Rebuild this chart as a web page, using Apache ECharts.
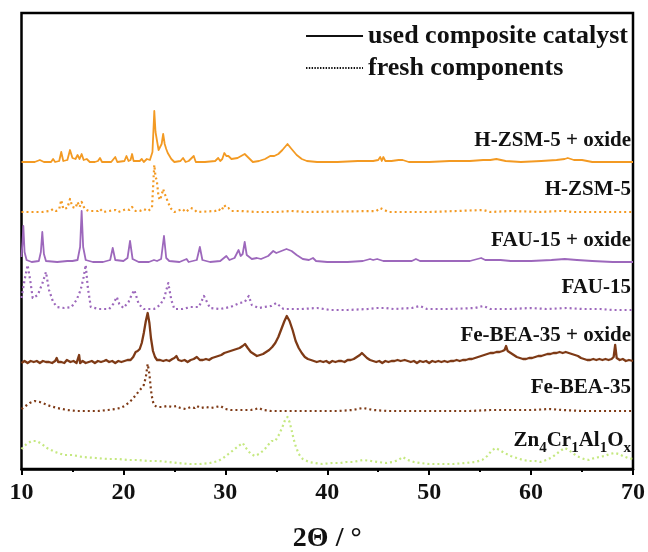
<!DOCTYPE html>
<html>
<head>
<meta charset="utf-8">
<script src="https://cdn.jsdelivr.net/npm/echarts@6/dist/echarts.min.js"></script>
<style>
  html, body { margin: 0; padding: 0; background: #ffffff; }
  #chart { width: 648px; height: 552px; }
</style>
</head>
<body>
<div id="chart"></div>
<script>
// XRD patterns: [2θ (°), intensity above the pattern's own baseline (a.u.)]
const zsmOxide = [[10,0],[11.3,0],[11.8,2],[12.2,0],[12.9,0],[13.1,3],[13.3,0],[13.7,1],[13.9,10],[14.1,1],[14.5,2],[14.76,12],[15.0,4],[15.3,3],[15.5,7],[15.7,3],[15.9,8],[16.1,2],[16.4,3],[16.7,0],[17.2,0],[17.5,1],[17.7,4],[17.9,0],[18.8,0],[19.2,5],[19.4,0],[20.1,1],[20.3,6],[20.5,1],[20.7,2],[20.85,8],[21.0,1],[21.6,1],[21.8,3],[22.0,0],[22.3,3],[22.6,2],[22.85,10],[23.03,51],[23.15,30],[23.27,28],[23.45,12],[23.6,10],[23.75,18],[23.9,28],[24.05,18],[24.2,13],[24.35,9],[24.5,9],[24.7,3],[25.0,0],[25.6,1],[25.85,4],[26.1,0],[26.4,1],[26.6,3],[26.75,1],[26.9,6],[27.1,0],[28.0,0],[29.0,1],[29.3,4],[29.5,1],[29.7,3],[29.9,9],[30.1,6],[30.3,6],[30.6,3],[31.2,4],[31.9,8],[32.4,3],[32.7,0],[33.3,1],[33.9,3],[34.4,6],[34.8,6],[35.2,8],[35.6,12],[36.1,18],[36.5,13],[37.0,7],[37.5,3],[38.0,1],[39,0],[41,0],[43,1],[44.5,1],[45.0,2],[45.2,5],[45.35,1],[45.5,5],[45.7,1],[46.3,1],[47.0,2],[47.4,2],[48.0,0],[50,0],[52,1],[54,1],[55.3,2],[56.0,2],[56.6,3],[57.5,1],[59,0],[61,1],[62.5,2],[63.3,3],[63.6,4],[64.2,2],[65,2],[66,0],[68,0],[70,0]];

const zsmFresh = [[10,0],[12,0],[12.8,1],[13.1,3],[13.4,1],[13.7,3],[13.9,12],[14.1,3],[14.5,4],[14.76,13],[15.0,5],[15.3,4],[15.5,10],[15.7,5],[15.9,10],[16.2,3],[16.6,1],[17.5,1],[17.7,3],[18,0],[19.2,2],[19.5,0],[20.3,3],[20.6,2],[20.85,5],[21.2,1],[21.6,1],[22.0,3],[22.4,1],[22.8,4],[23.03,47],[23.15,35],[23.27,32],[23.45,15],[23.6,12],[23.75,17],[23.9,23],[24.05,18],[24.2,15],[24.35,10],[24.5,8],[24.7,3],[25,0],[25.8,3],[26.1,0],[26.6,4],[26.9,3],[27.2,0],[29.0,1],[29.3,3],[29.6,1],[29.9,7],[30.1,4],[30.3,4],[30.6,1],[31.5,1],[33,0],[35,0],[36.5,1],[38,0],[44.8,1],[45.2,4],[45.4,3],[45.6,2],[46,0],[50,0],[55.3,2],[56,0],[58,1],[61,0],[62.7,1],[63.3,1],[64,0],[70,0]];

const fauOxide = [[10.0,5],[10.1,20],[10.18,36],[10.3,10],[10.5,2],[11.0,0],[11.7,1],[11.9,10],[12.04,30],[12.2,8],[12.4,1],[13.5,0],[14.5,1],[15.0,1],[15.5,2],[15.75,15],[15.9,51],[16.05,15],[16.3,2],[17,0],[18,0],[18.7,2],[18.95,14],[19.2,2],[20,1],[20.4,4],[20.65,21],[20.9,3],[21.5,0],[22.5,0],[23.0,2],[23.13,4],[23.3,1],[23.7,3],[23.98,26],[24.2,4],[24.5,1],[25.5,0],[26.2,3],[26.4,0],[27.2,2],[27.5,15],[27.75,2],[28.5,0],[29.5,1],[30.1,6],[30.4,2],[30.9,4],[31.3,12],[31.5,6],[31.7,8],[31.9,20],[32.1,7],[32.6,3],[33.1,4],[33.5,3],[34.2,6],[34.7,11],[35.0,9],[35.5,11],[36.0,13],[36.5,11],[37.0,7],[37.6,3],[38.2,2],[38.6,4],[38.9,1],[40,0],[42,0],[43.5,1],[44.2,3],[44.5,2],[44.9,3],[45.5,1],[47,1],[48.3,1],[48.7,3],[49.1,1],[51,1],[52.5,1],[54,1],[55.1,4],[55.5,2],[56.2,2],[57,2],[58,1],[60,1],[62,2],[63.3,3],[64.5,2],[66,1],[68,0],[70,0]];

const fauFresh = [[10.0,12],[10.3,30],[10.6,45],[10.85,30],[11.1,12],[11.6,15],[12.1,28],[12.4,38],[12.7,20],[13.1,8],[13.5,3],[14.2,2],[14.9,3],[15.4,10],[15.8,20],[16.1,33],[16.3,45],[16.5,23],[16.8,3],[17.6,1],[18.6,1],[19.0,6],[19.35,13],[19.6,6],[20.0,2],[20.5,8],[20.8,15],[21.07,20],[21.5,6],[22.0,1],[23.0,1],[23.6,5],[24.0,12],[24.4,27],[24.7,10],[25.0,1],[25.8,1],[26.6,3],[27.4,3],[27.9,14],[28.5,2],[29.5,1],[30.5,3],[31.4,7],[31.9,8],[32.3,14],[32.6,5],[33.3,2],[33.8,3],[34.5,4],[35.0,7],[35.7,1],[37.5,1],[39.0,2],[40.3,0],[42,0],[44.0,1],[44.9,2],[45.7,2],[46.5,1],[48.3,2],[49.1,4],[49.8,1],[52,1],[54.5,2],[55.3,4],[56,1],[58,1],[60,2],[61.5,1],[63.5,2],[65,1],[66.8,1],[68,0],[70,0]];

const beaOxide = [[10.0,0],[10.3,2],[10.6,0],[10.9,2],[11.2,1],[11.5,2],[11.8,0],[12.1,2],[12.4,1],[12.7,1],[13.0,0],[13.3,2],[13.45,5],[13.6,1],[13.9,1],[14.2,0],[14.45,3],[14.6,4],[14.8,1],[15.1,2],[15.4,0],[15.65,8],[15.75,0],[16.0,2],[16.3,0],[16.6,1],[16.9,2],[17.2,0],[17.5,2],[17.8,1],[18.1,2],[18.3,3],[18.6,1],[18.9,2],[19.2,0],[19.5,2],[19.8,1],[20.1,2],[20.4,3],[20.7,3],[20.96,6],[21.2,11],[21.4,12],[21.6,14],[21.8,20],[22.0,30],[22.2,42],[22.38,50],[22.55,40],[22.7,25],[22.9,12],[23.1,6],[23.3,3],[23.6,3],[23.9,2],[24.2,3],[24.5,2],[24.8,4],[25.0,5],[25.2,7],[25.4,3],[25.7,2],[26.0,3],[26.3,1],[26.6,3],[26.9,4],[27.2,6],[27.5,3],[27.8,3],[28.1,4],[28.4,3],[28.7,5],[29.0,6],[29.3,7],[29.6,8],[29.9,10],[30.2,11],[30.5,12],[30.8,13],[31.1,14],[31.4,15],[31.7,17],[31.93,19],[32.2,15],[32.5,11],[32.8,9],[33.1,7],[33.4,8],[33.7,9],[34.0,11],[34.3,13],[34.6,16],[34.9,20],[35.2,26],[35.5,34],[35.8,42],[36.03,47],[36.3,42],[36.6,33],[36.9,22],[37.2,15],[37.5,10],[37.8,6],[38.1,4],[38.4,3],[38.97,1],[39.3,2],[39.6,1],[39.9,2],[40.2,0],[40.5,2],[40.8,1],[41.1,2],[41.4,2],[41.7,1],[42.0,3],[42.3,3],[42.6,4],[42.9,6],[43.2,8],[43.4,10],[43.6,8],[43.9,5],[44.2,3],[44.5,2],[44.8,1],[45.1,2],[45.4,0],[45.7,2],[46.0,1],[46.3,2],[46.6,2],[46.9,3],[47.2,2],[47.6,3],[47.9,2],[48.2,1],[48.5,2],[48.8,0],[49.1,2],[49.4,1],[49.7,2],[50.0,0],[50.3,2],[50.6,1],[50.9,2],[51.2,1],[51.5,2],[51.8,1],[52.1,2],[52.4,2],[52.7,3],[53.0,2],[53.3,3],[53.6,3],[53.9,4],[54.2,4],[54.5,5],[54.8,6],[55.1,7],[55.4,8],[55.7,9],[56.0,10],[56.3,10],[56.6,11],[56.9,11],[57.2,12],[57.4,13],[57.55,17],[57.7,12],[58.0,10],[58.3,8],[58.6,6],[58.9,5],[59.2,4],[59.5,4],[59.8,5],[60.1,5],[60.4,6],[60.7,7],[61.0,7],[61.3,8],[61.6,9],[61.9,9],[62.2,10],[62.5,10],[62.8,11],[63.1,10],[63.4,11],[63.7,10],[64.0,9],[64.3,8],[64.6,7],[64.9,5],[65.2,4],[65.5,3],[65.8,3],[66.1,4],[66.4,3],[66.7,4],[67.0,3],[67.3,4],[67.6,3],[67.9,4],[68.1,6],[68.25,18],[68.4,5],[68.7,3],[69.0,4],[69.3,2],[69.6,3],[70.0,2]];

const beaFresh = [[10.0,3],[10.4,6],[10.8,9],[11.3,11],[11.8,10],[12.3,8],[12.8,6],[13.5,4],[14.5,2],[15.5,1],[16.5,1],[17.5,1],[18.5,2],[19.2,3],[19.7,4],[20.1,6],[20.5,9],[20.9,13],[21.3,18],[21.7,23],[22.0,27],[22.2,35],[22.38,48],[22.55,38],[22.7,22],[22.85,12],[23.0,7],[23.3,5],[23.8,5],[24.3,6],[24.8,5],[25.2,6],[25.6,4],[26.1,3],[26.6,5],[27.0,4],[27.2,6],[27.6,4],[28.1,5],[28.6,4],[29.1,5],[29.5,6],[30.0,3],[30.5,2],[31.0,2],[31.5,2],[32.0,2],[32.5,2],[33.0,3],[33.3,4],[33.7,2],[34.5,1],[35.5,1],[37,1],[39,1],[41,1],[42.5,2],[43.5,4],[44.5,2],[46,1],[48,1],[50,1],[52,1],[54,1],[56,2],[58,2],[60,2],[61.9,3],[63,2],[65,1],[67,1],[70,1]];

const oxideFresh = [[10.0,15],[10.5,20],[11.0,23],[11.5,23],[12.0,20],[12.5,16],[13.3,12],[14.2,9],[15.0,9],[16.0,7],[17.3,6],[18.5,5],[19.5,5],[20.5,4],[21.5,4],[22.5,3],[23.5,3],[24.5,2],[25.3,1],[26.5,0],[27.5,0],[28.5,1],[29.3,3],[29.8,6],[30.3,10],[30.8,14],[31.3,18],[31.7,21],[32.1,15],[32.5,10],[32.9,8],[33.3,10],[33.8,14],[34.2,19],[34.55,23],[34.9,23],[35.3,30],[35.6,37],[35.9,45],[36.1,47],[36.3,42],[36.5,34],[36.7,25],[36.9,18],[37.2,10],[37.6,5],[38.2,2],[38.8,1],[39.5,0],[40.5,1],[41.3,1],[41.9,2],[42.5,2],[43.5,4],[44.3,3],[45.0,2],[45.8,1],[46.4,2],[47.0,4],[47.4,7],[47.9,4],[48.5,2],[49.1,1],[50,0],[51,0],[52.4,0],[53.5,1],[54.5,2],[55.2,4],[55.7,8],[56.1,13],[56.5,16],[56.9,14],[57.4,11],[58.0,8],[58.6,6],[59.2,4],[59.8,3],[60.4,3],[60.9,2],[61.5,4],[62.1,7],[62.6,11],[63.0,14],[63.3,16],[63.7,14],[64.2,10],[64.7,7],[65.2,5],[65.7,4],[66.2,6],[66.7,7],[67.2,8],[67.7,10],[68.2,11],[68.6,10],[69.0,8],[69.5,6],[70.0,5]];

const xTicks = [10, 20, 30, 40, 50, 60, 70];
const legendNames = ['used composite catalyst', 'fresh components'];

// ---- layout & styling ----
const SERIF = '"Liberation Serif", "Times New Roman", serif';
const ORANGE = '#F39A23';
const PURPLE = '#9D68BC';
const BROWN = '#7E3A16';
const GREEN = '#C5E880';
const DOTS = [2, 3];

// Vertical stacking: each pattern is lifted onto its own baseline
const stack = [
  { data: zsmOxide,   base: 307, color: ORANGE, dotted: false, width: 1.8 },
  { data: zsmFresh,   base: 257, color: ORANGE, dotted: true,  width: 2.2 },
  { data: fauOxide,   base: 207, color: PURPLE, dotted: false, width: 1.8 },
  { data: fauFresh,   base: 159, color: PURPLE, dotted: true,  width: 2.2 },
  { data: beaOxide,   base: 106, color: BROWN,  dotted: false, width: 2.3 },
  { data: beaFresh,   base: 57,  color: BROWN,  dotted: true,  width: 2.2 },
  { data: oxideFresh, base: 5,   color: GREEN,  dotted: true,  width: 2.2 }
];

const series = stack.map(p => ({
  type: 'line',
  data: p.data.map(d => [d[0], d[1] + p.base]),
  showSymbol: false,
  symbol: 'none',
  silent: true,
  lineStyle: {
    color: p.color,
    width: p.width,
    type: p.dotted ? DOTS : 'solid',
    join: 'round'
  },
  z: 2
}));

// empty series that only feed the legend keys
series.push(
  { name: legendNames[0], type: 'line', data: [], symbol: 'none',
    lineStyle: { color: '#111', width: 1.6, type: 'solid' }, itemStyle: { color: '#111' } },
  { name: legendNames[1], type: 'line', data: [], symbol: 'none',
    lineStyle: { color: '#111', width: 1.6, type: [1.4, 1.4] }, itemStyle: { color: '#111' } }
);

const labelFont = 'bold 21px ' + SERIF;
const labelRows = [
  ['H-ZSM-5 + oxide', 141],
  ['H-ZSM-5', 190],
  ['FAU-15 + oxide', 241],
  ['FAU-15', 288],
  ['Fe-BEA-35 + oxide', 336],
  ['Fe-BEA-35', 388]
];
const graphics = labelRows.map(r => ({
  type: 'text', x: 631, y: r[1], silent: true,
  style: { text: r[0], font: labelFont, fill: '#111', align: 'right', verticalAlign: 'middle' }
}));
graphics.push({
  type: 'text', x: 631, y: 441, silent: true,
  style: {
    text: '{m|Zn}{s|4}{m|Cr}{s|1}{m|Al}{s|1}{m|O}{s|x}',
    align: 'right', verticalAlign: 'middle', fill: '#111',
    rich: {
      m: { font: labelFont, lineHeight: 30, verticalAlign: 'middle', fill: '#111' },
      s: { font: 'bold 15px ' + SERIF, lineHeight: 14, verticalAlign: 'bottom', fill: '#111' }
    }
  }
});

const chart = echarts.init(document.getElementById('chart'), null, { renderer: 'canvas' });
chart.setOption({
  animation: false,
  backgroundColor: '#ffffff',
  grid: {
    left: 21.5, right: 15, top: 13, bottom: 83,
    outerBoundsMode: 'none', containLabel: false,
    show: true, borderColor: '#000', borderWidth: 2.5, backgroundColor: 'transparent'
  },
  legend: {
    data: legendNames,
    orient: 'vertical',
    right: 15, top: 18,
    itemWidth: 57, itemHeight: 14, itemGap: 6,
    selectedMode: false,
    itemStyle: { opacity: 0 },
    textStyle: { fontFamily: SERIF, fontWeight: 'bold', fontSize: 26, color: '#111' }
  },
  xAxis: {
    type: 'value', min: xTicks[0], max: xTicks[xTicks.length - 1], interval: 10,
    axisLine: { show: true, onZero: false, lineStyle: { color: '#000', width: 2.5 } },
    axisTick: { show: true, inside: false, length: 6, lineStyle: { color: '#000', width: 2 } },
    minorTick: { show: true, splitNumber: 2, length: 3, lineStyle: { color: '#000', width: 2 } },
    splitLine: { show: false },
    axisLabel: { color: '#111', fontFamily: SERIF, fontWeight: 'bold', fontSize: 24, margin: 12 },
    name: '2Θ / °', nameLocation: 'middle', nameGap: 56,
    nameTextStyle: { color: '#111', fontFamily: SERIF, fontWeight: 'bold', fontSize: 28 }
  },
  yAxis: {
    type: 'value', min: 0, max: 456, show: false
  },
  graphic: graphics,
  series: series
});
</script>
</body>
</html>
